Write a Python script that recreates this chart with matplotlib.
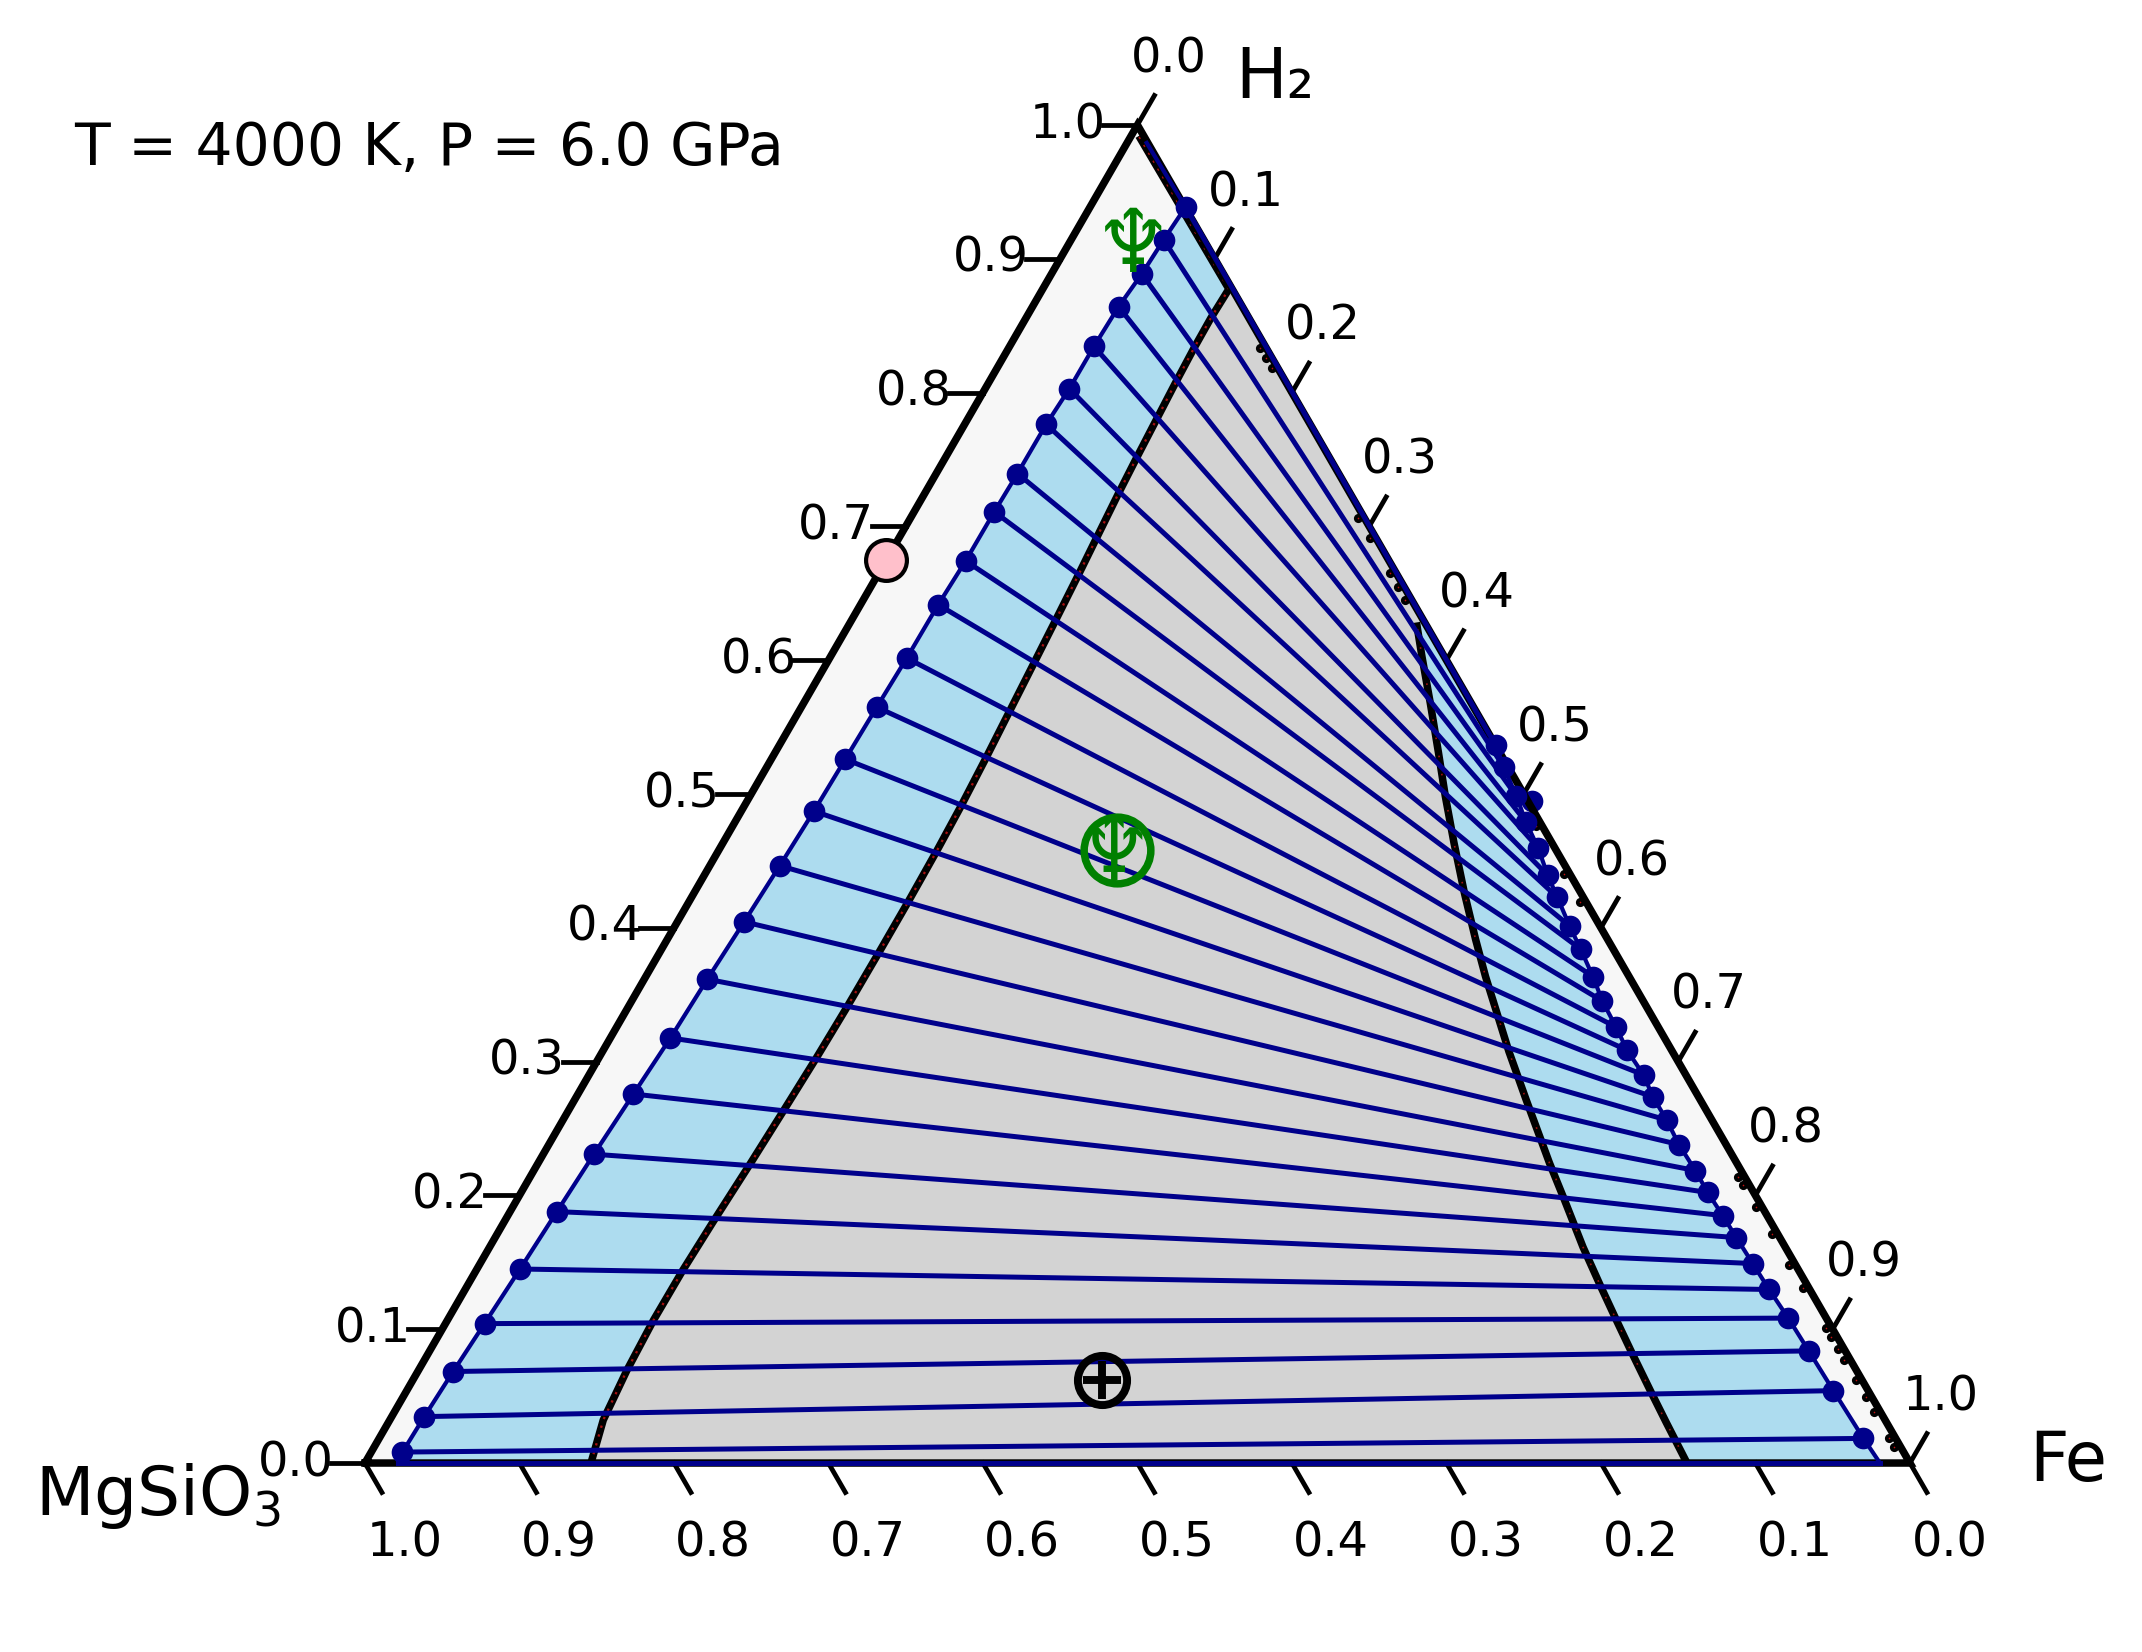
import numpy as np
import matplotlib
matplotlib.use('Agg')
import matplotlib.pyplot as plt

# mole fractions: (H2, Fe), MgSiO3 is the remainder
left_h2 = [.0082, .0347, .0684, .1042, .1450, .1879, .2308, .2758, .3177, .3616, .4045, .4464, .4872, .5260,
           .5649, .6016, .6415, .6742, .7109, .7395, .7763, .8029, .8345, .8642, .8887, .9142, .9387]
left_fe = [.0202, .0211, .0229, .0253, .0279, .0303, .0328, .0359, .0389, .0408, .0432, .0453, .0470, .0479,
           .0488, .0499, .0503, .0517, .0519, .0526, .0528, .0545, .0546, .0557, .0585, .0599, .0618]
right_h2 = [.0184, .0541, .0838, .1083, .1297, .1491, .1685, .1849, .2022, .2186, .2380, .2564, .2737, .2901,
            .3085, .3258, .3453, .3636, .3841, .4014, .4229, .4392, .4597, .4791, .4985, .5199, .5363]
right_fe = [.9607, .9234, .8926, .8671, .8440, .8237, .8034, .7864, .7680, .7518, .7315, .7143, .6968, .6825,
            .6627, .6469, .6283, .6130, .5948, .5790, .5603, .5460, .5295, .5119, .4960, .4773, .4638]
extra_h2 = [.4944]
extra_fe = [.5082]

# binodal ends
bin_left_end = (0.0, .0217)
bin_right_end = (0.0, .9806)
bin_top_end = (.9866, .0127)

# spinodal curves
spin_left_h2 = [0, .0321, .0695, .1069, .1442, .1801, .2227, .2638, .3027, .3386, .3812, .4185, .4567, .4895,
                .5254, .5590, .5964, .6286, .6652, .6921, .7250, .7519, .7795, .8072, .8333, .8558, .8774, .9918]
spin_left_fe = [.1463, .1382, .1349, .1334, .1337, .1352, .1375, .1393, .1408, .1416, .1419, .1419, .1414, .1404,
                .1386, .1365, .1342, .1322, .1298, .1278, .1254, .1238, .1224, .1210, .1200, .1197, .1205, .0050]
spin_right_h2 = [0, .0299, .0523, .0822, .1069, .1315, .1614, .1966, .2242, .2713, .3075, .3636, .3912, .4259,
                 .4637, .4985, .5312, .5679, .6027, .6282]
spin_right_fe = [.8557, .8275, .8066, .7790, .7565, .7343, .7077, .6781, .6546, .6160, .5867, .5435, .5233, .4987,
                 .4730, .4500, .4292, .4056, .3828, .3665]

# bits of spinodal that run along the right edge
edge_spots_h2 = [.214, .208, .191, .171, .148, .131, .101, .094, .085, .077, .062, .049, .038, .019, .012,
                 .833, .826, .818, .706, .691, .665, .655, .645, .476, .44, .419]

ticks = [0.0, 0.1, 0.2, 0.3, 0.4, 0.5, 0.6, 0.7, 0.8, 0.9, 1.0]

# bulk compositions
pink_pt = (.675, 0.0)
neptune_top = (.908, .043)
neptune_mid = (.458, .258)
earth_pt = (.062, .446)

NAVY = '#00008b'
BLUE = '#addcef'
GRAY = '#d3d3d3'
EDGE = '#f7f7f7'
GREEN = '#008000'
FS = 11.5


def tern(h2, fe):
    h2 = np.asarray(h2, dtype=float)
    fe = np.asarray(fe, dtype=float)
    return fe + h2 / 2, h2 * np.sqrt(3) / 2


fig = plt.figure(figsize=(2142 / 300, 1652 / 300), dpi=300)
ax = fig.add_axes([0, 0, 1, 1])
ax.set_xlim(-.2362, 1.1502)
ax.set_ylim(-.1223, .9469)
ax.axis('off')

# background triangle
cx, cy = tern([0, 0, 1], [0, 1, 0])
ax.fill(cx, cy, color=EDGE, lw=0, zorder=1)

# two phase region
bh = [bin_left_end[0]] + left_h2 + [bin_top_end[0]] + right_h2[::-1] + [bin_right_end[0]]
bf = [bin_left_end[1]] + left_fe + [bin_top_end[1]] + right_fe[::-1] + [bin_right_end[1]]
bx, by = tern(bh, bf)
ax.fill(bx, by, color=BLUE, lw=0, zorder=1.2)

# spinodal region
sh = spin_left_h2[:-1] + [.8774, .6282] + spin_right_h2[::-1]
sf = spin_left_fe[:-1] + [.1226, .3718] + spin_right_fe[::-1]
sx, sy = tern(sh, sf)
ax.fill(sx, sy, color=GRAY, lw=0, zorder=1.4)

# spinodal lines, black with red specks
x, y = tern(spin_left_h2, spin_left_fe)
ax.plot(x, y, color='black', lw=1.8, zorder=2, solid_capstyle='butt')
ax.plot(x, y, color='#a81010', lw=.55, ls=(0, (1, 3)), zorder=2.1)
x, y = tern(spin_right_h2, spin_right_fe)
ax.plot(x, y, color='black', lw=1.8, zorder=2, solid_capstyle='butt')
ax.plot(x, y, color='#a01010', lw=.4, ls=(0, (1, 10)), zorder=2.1)
x, y = tern(edge_spots_h2, 0.996 - np.array(edge_spots_h2))
ax.plot(x, y, 'o', color='black', ms=2.2, mew=0, zorder=2)
ax.plot(x, y, 'o', color='#c01010', ms=.4, mew=0, zorder=2.1)

x, y = tern(extra_h2, extra_fe)
ax.plot(x, y, 'o', color=NAVY, ms=5.2, mew=0, zorder=2.5)

# triangle edges
ex, ey = tern([0, 0, 1, 0], [0, 1, 0, 0])
ax.plot(ex, ey, color='black', lw=1.8, zorder=3, solid_joinstyle='miter')

# binodal and tie lines
x, y = tern([bin_left_end[0]] + left_h2 + [bin_top_end[0]], [bin_left_end[1]] + left_fe + [bin_top_end[1]])
ax.plot(x, y, color=NAVY, lw=1.0, zorder=4)
x, y = tern([bin_right_end[0]] + right_h2, [bin_right_end[1]] + right_fe)
ax.plot(x, y, color=NAVY, lw=1.0, zorder=4)
for i in range(len(left_h2)):
    x, y = tern([left_h2[i], right_h2[i]], [left_fe[i], right_fe[i]])
    ax.plot(x, y, color=NAVY, lw=1.2, zorder=4)
x, y = tern([0, 0], [bin_left_end[1], bin_right_end[1]])
ax.plot(x, y, color=NAVY, lw=1.2, zorder=4)
x, y = tern(left_h2, left_fe)
ax.plot(x, y, 'o', color=NAVY, ms=5.2, mew=0, zorder=5)
x, y = tern(right_h2, right_fe)
ax.plot(x, y, 'o', color=NAVY, ms=5.2, mew=0, zorder=5)

# ticks on the three sides
TL = .022
for t in ticks:
    # H2 on the left side
    x, y = tern(t, 0)
    ax.plot([x, x - TL], [y, y], color='black', lw=1.15, zorder=3)
    ax.text(x - .045, y + .0002, '%.1f' % t, ha='center', va='center', fontsize=FS)
    # Fe on the right side
    x, y = tern(1 - t, t)
    ax.plot([x, x + TL / 2], [y, y + TL * .866], color='black', lw=1.15, zorder=3)
    ax.text(x + .020, y + .0428, '%.1f' % t, ha='center', va='center', fontsize=FS)
    # MgSiO3 on the bottom
    x, y = tern(0, 1 - t)
    ax.plot([x, x + TL / 2], [y, y - TL * .866], color='black', lw=1.15, zorder=3)
    ax.text(x + .0255, y - .0518, '%.1f' % t, ha='center', va='center', fontsize=FS)

# corner labels
x, y = tern(1, 0)
ax.text(x + .089, y + .030, 'H₂', ha='center', va='center', fontsize=16.5)
x, y = tern(0, 1)
ax.text(x + .1025, y + .001, 'Fe', ha='center', va='center', fontsize=16.5)
x, y = tern(0, 0)
ax.text(x - .134, y - .0215, 'MgSiO$_3$', ha='center', va='center', fontsize=16.3)
ax.text(74 / 2142, 1 - 148 / 1652, 'T = 4000 K, P = 6.0 GPa', transform=ax.transAxes,
        ha='left', va='center', fontsize=14)

# compositions
x, y = tern(*pink_pt)
ax.plot(x, y, 'o', mfc='pink', mec='black', ms=9.8, mew=1.0, zorder=6)
x, y = tern(*neptune_top)
ax.text(x, y, '♆', color=GREEN, ha='center', va='center', fontsize=21, zorder=6)
x, y = tern(*neptune_mid)
ax.text(x - .002, y - .004, '♆', color=GREEN, ha='center', va='center', fontsize=21, zorder=6)
ax.plot(x, y, 'o', mfc='none', mec=GREEN, ms=16, mew=1.8, zorder=6)
x, y = tern(*earth_pt)
ax.plot(x, y, 'o', mfc='none', mec='black', ms=11.8, mew=1.9, zorder=6)
ax.plot(x, y, '+', color='black', ms=9, mew=1.9, zorder=6)

fig.savefig('out.png', dpi=300)
